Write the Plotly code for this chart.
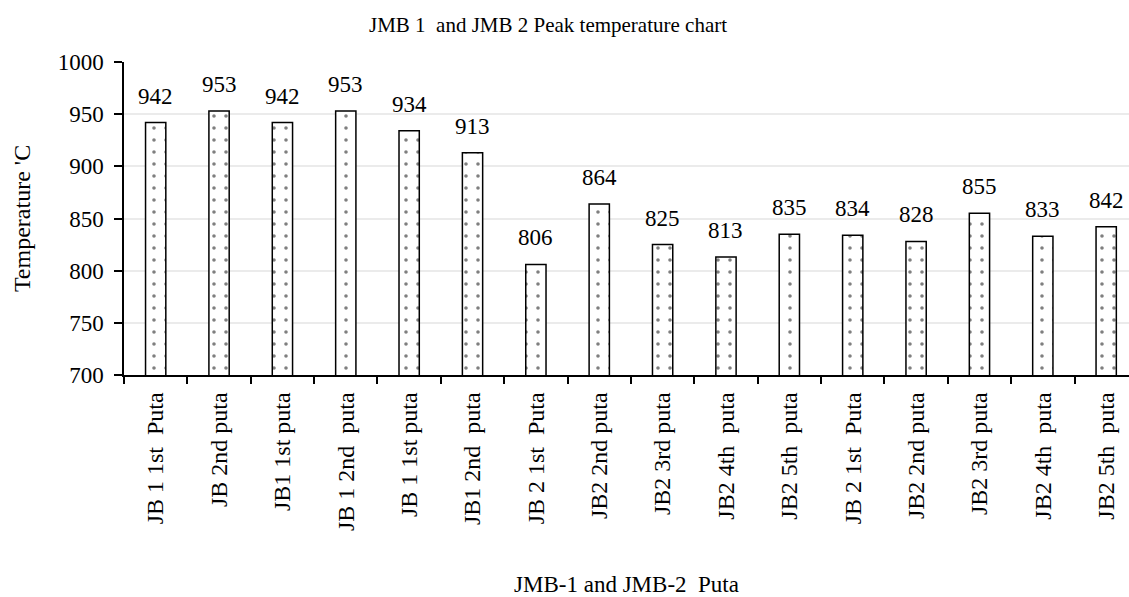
import plotly.graph_objects as go

NB = "\u00a0"
categories = [
    "JB 1 1st  Puta", "JB 2nd puta", "JB1 1st puta", "JB 1 2nd  puta",
    "JB 1 1st puta", "JB1 2nd  puta", "JB 2 1st  Puta", "JB2 2nd puta",
    "JB2 3rd puta", "JB2 4th  puta", "JB2 5th  puta", "JB 2 1st  Puta",
    "JB2 2nd puta", "JB2 3rd puta", "JB2 4th  puta", "JB2 5th  puta",
]
temperatures = [942, 953, 942, 953, 934, 913, 806, 864, 825, 813, 835, 834, 828, 855, 833, 842]
y_ticks = [700, 750, 800, 850, 900, 950, 1000]

title_text = "JMB 1  and JMB 2 Peak temperature chart"
x_title = "JMB-1 and JMB-2  Puta"
y_title = "Temperature 'C"

def keep_spaces(s):
    return s.replace("  ", " " + NB)

FONT = "Liberation Serif, Times New Roman, serif"
positions = list(range(len(categories)))

fig = go.Figure()
fig.add_trace(go.Bar(
    x=positions,
    y=temperatures,
    width=0.32,
    marker=dict(
        color="white",
        line=dict(color="black", width=1.5),
        pattern=dict(shape=".", fgcolor="black", bgcolor="white", size=12, solidity=0.07),
    ),
    hoverinfo="x+y",
))

for i, v in zip(positions, temperatures):
    fig.add_annotation(x=i, y=v, text=str(v), showarrow=False, yanchor="bottom",
                       yshift=12, font=dict(family=FONT, size=23, color="black"))

fig.update_layout(
    width=1129, height=597,
    margin=dict(l=124, r=0, t=62, b=222),
    paper_bgcolor="white", plot_bgcolor="white",
    font=dict(family=FONT, size=23, color="black"),
    showlegend=False,
    title=dict(text=keep_spaces(title_text), x=548 / 1129, xanchor="center", xref="container",
               y=1 - 25 / 597, yanchor="middle", font=dict(family=FONT, size=21, color="black")),
)

fig.update_xaxes(
    range=[-0.5, 15.36],
    tickmode="array", tickvals=positions, ticktext=[keep_spaces(c) for c in categories],
    tickangle=-90, ticks="", ticklen=0,
    ticklabelstandoff=6,
    tickfont=dict(family=FONT, size=24, color="black"),
    showline=True, linecolor="black", linewidth=1.5,
    showgrid=False, zeroline=False,
    minor=dict(tickmode="array", tickvals=[p - 0.5 for p in positions] + [15.5],
               ticks="outside", ticklen=7, tickcolor="black", tickwidth=1.5, showgrid=False),
    title=dict(text=keep_spaces(x_title), font=dict(family=FONT, size=23, color="black"), standoff=55),
    automargin=False,
)

fig.update_yaxes(
    range=[700, 1000],
    tickmode="array", tickvals=y_ticks,
    ticks="outside", ticklen=8, tickcolor="black", tickwidth=1.5,
    ticklabelstandoff=6,
    tickfont=dict(family=FONT, size=23, color="black"),
    showline=True, linecolor="black", linewidth=1.5,
    showgrid=True, gridcolor="#ebebeb", gridwidth=1.5,
    zeroline=False,
    title=dict(text=y_title, font=dict(family=FONT, size=24, color="black"), standoff=20),
    automargin=False,
)

fig.write_html("out.html", config={"displayModeBar": False},
               post_script="document.body.style.margin='0';")
